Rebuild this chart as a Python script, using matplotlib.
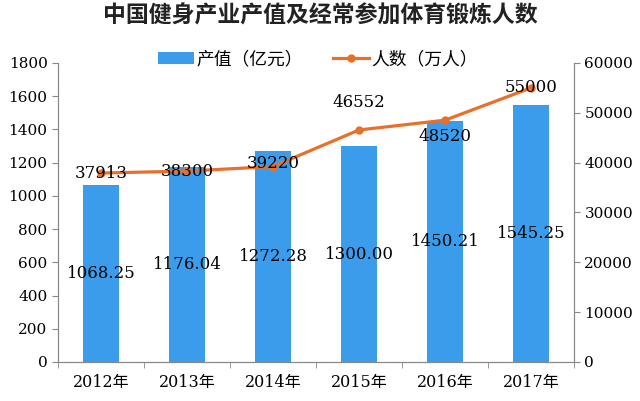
import matplotlib.pyplot as plt
import numpy as np

plt.rcParams['font.family'] = ['Noto Sans CJK SC', 'DejaVu Sans']

# 数据
years = ['2012年', '2013年', '2014年', '2015年', '2016年', '2017年']
output_value = [1068.25, 1176.04, 1272.28, 1300.00, 1450.21, 1545.25]  # 亿元
people = [37913, 38300, 39220, 46552, 48520, 55000]  # 万人
value_labels = ['1068.25', '1176.04', '1272.28', '1300.00', '1450.21', '1545.25']

bar_color = '#3b9cec'
line_color = '#e8702a'
num_font = ['DejaVu Serif']

fig = plt.figure(figsize=(6.4, 4.01), dpi=100)
ax = fig.add_axes([0.0906, 0.0973, 0.8063, 0.7457])
ax2 = ax.twinx()

x = np.arange(len(years))
bars = ax.bar(x, output_value, width=0.41, color=bar_color, label='产值（亿元）', zorder=2)
line, = ax2.plot(x, people, color=line_color, lw=2.3, marker='o', ms=5,
                 label='人数（万人）', zorder=3)

ax.set_xlim(-0.5, len(years) - 0.5)
ax.set_ylim(0, 1800)
ax.set_yticks(range(0, 1801, 200))
ax2.set_ylim(0, 60000)
ax2.set_yticks(range(0, 60001, 10000))

ax.set_xticks(x)
ax.set_xticklabels(years, fontsize=11.5, family=['DejaVu Serif', 'Noto Sans CJK SC'])
for lab in ax.get_yticklabels() + ax2.get_yticklabels():
    lab.set_family(num_font)
    lab.set_fontsize(11)

for a in (ax, ax2):
    for s in a.spines.values():
        s.set_color('#888888')
    a.spines['top'].set_visible(False)
ax.tick_params(axis='y', colors='#888888', labelcolor='black', length=4)
ax2.tick_params(axis='y', colors='#888888', labelcolor='black', length=4)
ax.tick_params(axis='x', length=0, pad=9)
ax.set_xticks(np.arange(-0.5, len(years), 1), minor=True)
ax.tick_params(axis='x', which='minor', length=4, colors='#888888')

# 柱内标签
for i, v in enumerate(output_value):
    ax.text(i, v / 2, value_labels[i], ha='center', va='center', fontsize=12,
            family=num_font)

# 折线标签
offsets = [0, 0, 700, 5600, -3200, 0]
for i, v in enumerate(people):
    ax2.text(i, v + offsets[i], str(v), ha='center', va='center', fontsize=12,
             family=num_font, zorder=5)

fig.text(0.5, 0.96, '中国健身产业产值及经常参加体育锻炼人数', ha='center', va='center',
         fontsize=16.5, fontweight='bold', color='#222222')

fig.legend(handles=[bars, line], loc='center', bbox_to_anchor=(0.497, 0.853), ncol=2,
           frameon=False, fontsize=12.8, handlelength=2.0, columnspacing=1.7,
           handletextpad=0.15, borderpad=0)

plt.savefig('out.png', dpi=100)
